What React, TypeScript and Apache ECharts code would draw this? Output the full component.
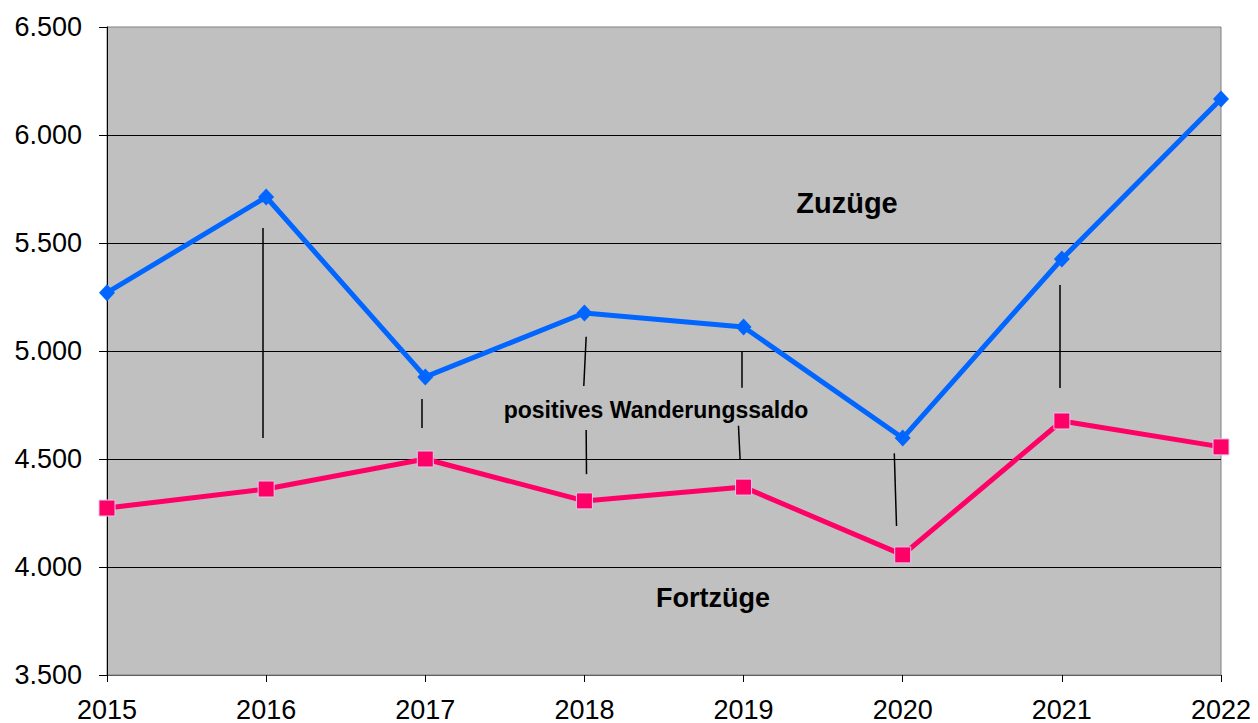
import React, { useEffect, useRef } from "react";
import * as echarts from "echarts";

const years = [2015, 2016, 2017, 2018, 2019, 2020, 2021, 2022];
const zuzuege = [5270, 5713, 4880, 5176, 5111, 4597, 5426, 6167];
const fortzuege = [4273, 4361, 4500, 4306, 4370, 4056, 4676, 4556];

// annotation connector lines: [x1, y1, x2, y2] in data units
const saldoLines: number[][] = [
  [2015.979, 5569, 2015.979, 4597],
  [2016.977, 4778, 2016.977, 4643],
  [2018.011, 5066, 2017.996, 4838],
  [2018.011, 4634, 2018.013, 4430],
  [2018.988, 4997, 2018.988, 4830],
  [2018.968, 4654, 2018.978, 4500],
  [2019.947, 4526, 2019.961, 4190],
  [2020.989, 5305, 2020.989, 4829],
];

const yTicks = { min: 3500, max: 6500, interval: 500 };

const fmt = (v: number) => String(v).replace(/\B(?=(\d{3})+(?!\d))/g, ".");

export default function App() {
  const ref = useRef<HTMLDivElement>(null);
  useEffect(() => {
    if (!ref.current) return;
    const chart = echarts.init(ref.current, null, { renderer: "svg" });
    const font = "'Liberation Sans', Arial, sans-serif";
    chart.setOption({
      animation: false,
      backgroundColor: "#ffffff",
      textStyle: { fontFamily: font },
      grid: {
        show: true,
        left: 107,
        right: 37,
        top: 27,
        bottom: 48,
        backgroundColor: "#c0c0c0",
        borderColor: "#808080",
        borderWidth: 1,
      },
      xAxis: {
        type: "value",
        min: 2015,
        max: 2022,
        interval: 1,
        axisLine: { show: true, lineStyle: { color: "#606060", width: 1 } },
        axisTick: { show: true, length: 7, lineStyle: { color: "#000" } },
        axisLabel: {
          margin: 21,
          fontSize: 27,
          color: "#000",
          fontFamily: font,
          formatter: (v: number) => String(v),
        },
        splitLine: { show: false },
      },
      yAxis: {
        type: "value",
        min: yTicks.min,
        max: yTicks.max,
        interval: yTicks.interval,
        axisLine: { show: true, lineStyle: { color: "#000", width: 1 } },
        axisTick: { show: true, length: 8, lineStyle: { color: "#000" } },
        axisLabel: {
          margin: 25,
          fontSize: 27,
          color: "#000",
          fontFamily: font,
          formatter: (v: number) => fmt(v),
        },
        splitLine: {
          show: true,
          showMinLine: false,
          showMaxLine: false,
          lineStyle: { color: "#000", width: 1 },
        },
      },
      series: [
        {
          name: "Zuzüge",
          type: "line",
          data: years.map((y, i) => [y, zuzuege[i]]),
          symbol: "diamond",
          symbolSize: [16, 17],
          lineStyle: { color: "#0066ff", width: 5 },
          itemStyle: { color: "#0066ff" },
          z: 3,
          markLine: {
            silent: true,
            symbol: "none",
            label: { show: false },
            lineStyle: { color: "#000", width: 1.5, type: "solid" },
            data: saldoLines.map((l) => [
              { coord: [l[0], l[1]] },
              { coord: [l[2], l[3]] },
            ]),
          },
        },
        {
          name: "Fortzüge",
          type: "line",
          data: years.map((y, i) => [y, fortzuege[i]]),
          symbol: "rect",
          symbolSize: 16,
          lineStyle: { color: "#ff0066", width: 5 },
          itemStyle: { color: "#ff0066", borderColor: "#e6c6f0", borderWidth: 1 },
          z: 4,
        },
      ],
      graphic: [
        {
          type: "text",
          x: 847,
          y: 203,
          style: {
            text: "Zuzüge",
            font: `bold 29px ${font}`,
            fill: "#000",
            align: "center",
            verticalAlign: "middle",
          },
        },
        {
          type: "text",
          x: 713,
          y: 598,
          style: {
            text: "Fortzüge",
            font: `bold 27px ${font}`,
            fill: "#000",
            align: "center",
            verticalAlign: "middle",
          },
        },
        {
          type: "text",
          x: 656,
          y: 410,
          style: {
            text: "positives Wanderungssaldo",
            font: `bold 23px ${font}`,
            fill: "#000",
            align: "center",
            verticalAlign: "middle",
          },
        },
      ],
    });
    return () => chart.dispose();
  }, []);
  return (
    <div
      ref={ref}
      style={{ position: "fixed", left: 0, top: 0, width: 1258, height: 723 }}
    />
  );
}
